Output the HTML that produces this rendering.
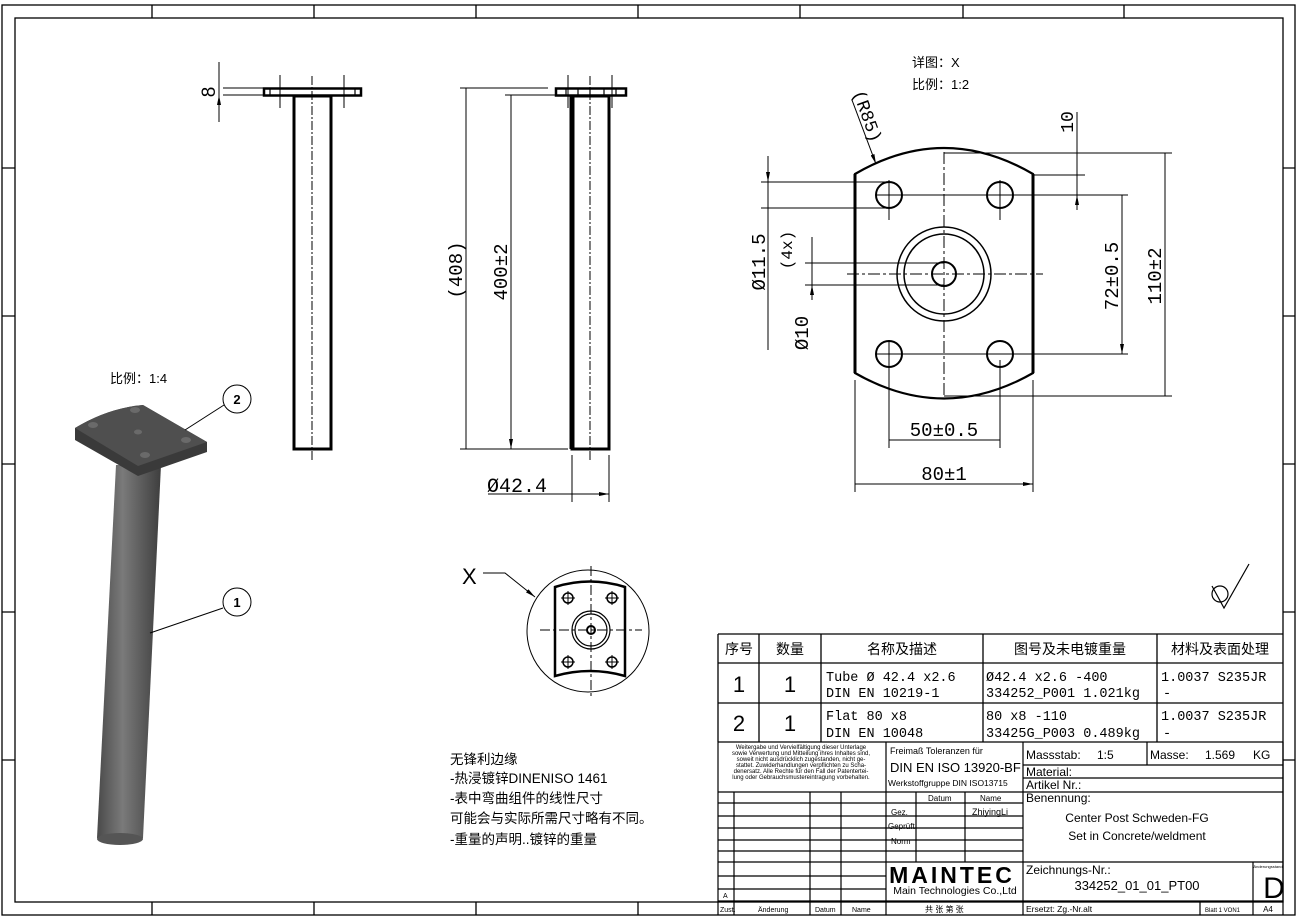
<!DOCTYPE html>
<html><head><meta charset="utf-8"><style>
html,body{margin:0;padding:0;background:#fff}
svg{display:block}
text{font-family:"Liberation Sans","Noto Sans CJK SC",sans-serif;fill:#000}
.m{font-family:"Liberation Mono","DejaVu Sans Mono","Noto Sans CJK SC",monospace}
</style></head><body>
<svg width="1299" height="919" viewBox="0 0 1299 919" xmlns="http://www.w3.org/2000/svg">
<defs>
<marker id="a" viewBox="0 0 10 4" refX="10" refY="2" markerWidth="10" markerHeight="4" orient="auto-start-reverse" markerUnits="userSpaceOnUse"><path d="M0,0L10,2L0,4z" fill="#000"/></marker>
<linearGradient id="tube" x1="0" x2="1"><stop offset="0" stop-color="#4a4a4a"/><stop offset="0.4" stop-color="#7a7a7a"/><stop offset="1" stop-color="#3e3e3e"/></linearGradient>
</defs>
<g fill="none" stroke="#000" stroke-width="1.3">
<rect x="2" y="5" width="1293" height="910"/>
<rect x="15" y="18" width="1268" height="884"/>
<path d="M152 5V18M314 5V18M476 5V18M638 5V18M800 5V18M963 5V18M1124 5V18M2 168H15M2 316H15M2 464H15M2 612H15M2 760H15M1283 168H1295M1283 316H1295M1283 464H1295M1283 612H1295M1283 760H1295M152 902V915M314 902V915M476 902V915M638 902V915"/>
</g>
<!-- view 1 -->
<g fill="none" stroke="#000">
<rect x="264" y="88.5" width="97" height="7" stroke-width="2.5"/>
<path d="M270 88V96M355 88V96" stroke-width="1.2"/>
<rect x="294" y="96" width="37" height="353" stroke-width="3"/>
<path d="M312 76V462" stroke-width="1" stroke-dasharray="9,2,2,2"/>
<path d="M280 75V108M344 75V108" stroke-width="1"/>
<path d="M223 88H263M223 95H263M219 62V122" stroke-width="1"/>
<path d="M219 72V88M219 111V95" stroke-width="1" marker-end="url(#a)"/>
</g>
<text x="0" y="0" font-size="19" transform="translate(215,92) rotate(-90)" text-anchor="middle">8</text>
<!-- view 2 -->
<g fill="none" stroke="#000">
<rect x="556" y="88.5" width="70" height="7" stroke-width="2.5"/>
<path d="M566 88V96M578 88V96M590 88V96M604 88V96M616 88V96" stroke-width="1.2"/>
<rect x="572" y="96" width="37" height="353" stroke-width="3"/>
<path d="M572 96V449" stroke-width="5"/>
<path d="M590 76V462" stroke-width="1" stroke-dasharray="9,2,2,2"/>
<path d="M568 75V108M612 75V108" stroke-width="1"/>
<path d="M460 88H548M505 95H555M460 449H568" stroke-width="1"/>
<path d="M466 268V88M466 268V449M511 272V95M511 272V449" stroke-width="1" marker-end="url(#a)"/>
<path d="M572 455V502M609 455V502M488 494H609" stroke-width="1"/>
<path d="M590 494H572M590 494H609" stroke-width="1" marker-end="url(#a)"/>
</g>
<text transform="translate(462,270) rotate(-90)" font-size="19" text-anchor="middle" class="m">(408)</text>
<text transform="translate(507,272) rotate(-90)" font-size="19" text-anchor="middle" class="m">400±2</text>
<text x="487" y="492" font-size="20" class="m">Ø42.4</text>
<!-- detail view X -->
<text x="912" y="67" font-size="13" fill="#333">详图：X</text>
<text x="912" y="89" font-size="13" fill="#333">比例：1:2</text>
<g fill="none" stroke="#000">
<path d="M855 174Q944 122 1033 174V373Q944 424 855 373Z" stroke-width="2.2"/>
<path d="M855 174V373M1033 174V373" stroke-width="3"/>
<circle cx="889" cy="195" r="13" stroke-width="2"/><circle cx="1000" cy="195" r="13" stroke-width="2"/>
<circle cx="889" cy="354" r="13" stroke-width="2"/><circle cx="1000" cy="354" r="13" stroke-width="2"/>
<circle cx="944" cy="274" r="47" stroke-width="1.5"/><circle cx="944" cy="274" r="40" stroke-width="1.5"/>
<circle cx="944" cy="274" r="12" stroke-width="2"/>
<path d="M944 152V398M847 274H1043" stroke-width="1" stroke-dasharray="12,3,3,3"/>
<path d="M876 195H1000M876 354H1000M889 180V220M1000 180V220M889 340V370" stroke-width="1"/>
<path d="M944 153H1172M1033 175H1085M990 195H1128M1000 354H1128M944 396H1172" stroke-width="1"/>
<path d="M1165 153V396M1122 195V354M1077 112V203" stroke-width="1"/>
<path d="M1165 270V153M1165 270V396M1122 270V195M1122 270V354" stroke-width="1" marker-end="url(#a)"/>
<path d="M1077 160V175M1077 210V195" stroke-width="1" marker-end="url(#a)"/>
<path d="M761 182H889M761 208H889M768 156V230M768 350V208" stroke-width="1"/>
<path d="M768 166V182" stroke-width="1" marker-end="url(#a)"/>
<path d="M805 263H944M805 285H944M812 237V300" stroke-width="1"/>
<path d="M812 248V263M812 300V285" stroke-width="1" marker-end="url(#a)"/>
<path d="M889 360V448M1000 360V448M855 380V492M1033 380V492" stroke-width="1"/>
<path d="M944 440H889M944 440H1000M944 484H855M944 484H1033" stroke-width="1" marker-end="url(#a)"/>
<path d="M852 100L876 164" stroke-width="1" marker-end="url(#a)"/>
</g>
<text transform="translate(862,118) rotate(70)" font-size="18" text-anchor="middle" class="m">(R85)</text>
<text transform="translate(1073,122) rotate(-90)" font-size="18" text-anchor="middle" class="m">10</text>
<text transform="translate(1118,276) rotate(-90)" font-size="19" text-anchor="middle" class="m">72±0.5</text>
<text transform="translate(1161,276) rotate(-90)" font-size="19" text-anchor="middle" class="m">110±2</text>
<text transform="translate(765,262) rotate(-90)" font-size="19" text-anchor="middle" class="m">Ø11.5</text>
<text transform="translate(792,250) rotate(-90)" font-size="16" text-anchor="middle" class="m">(4x)</text>
<text transform="translate(808,333) rotate(-90)" font-size="19" text-anchor="middle" class="m">Ø10</text>
<text x="944" y="436" font-size="19" text-anchor="middle" class="m">50±0.5</text>
<text x="944" y="480" font-size="19" text-anchor="middle" class="m">80±1</text>
<!-- small detail view -->
<g fill="none" stroke="#000">
<circle cx="588" cy="631" r="61" stroke-width="1"/>
<path d="M555 587Q590 576 625 587V676Q590 666 555 676Z" stroke-width="2.5"/>
<circle cx="568" cy="598" r="5" stroke-width="1.5"/><circle cx="612" cy="598" r="5" stroke-width="1.5"/>
<circle cx="568" cy="662" r="5" stroke-width="1.5"/><circle cx="612" cy="662" r="5" stroke-width="1.5"/>
<path d="M561 598H575M605 598H619M561 662H575M605 662H619M568 591V605M612 591V605M568 655V669M612 655V669" stroke-width="1"/>
<circle cx="591" cy="630" r="19" stroke-width="1.2"/><circle cx="591" cy="630" r="16" stroke-width="1.2"/>
<circle cx="591" cy="630" r="4" stroke-width="2"/>
<path d="M591 566V696M540 630H642" stroke-width="1" stroke-dasharray="10,3,3,3"/>
<path d="M483 573H505L535 597" stroke-width="1" marker-end="url(#a)"/>
</g>
<text x="462" y="584" font-size="22" font-family="Liberation Sans">X</text>
<!-- 3D view -->
<text x="110" y="383" font-size="13" fill="#333">比例：1:4</text>
<path d="M116 465L161 465L143 838Q120 850 97 838Z" fill="url(#tube)"/>
<ellipse cx="120" cy="839" rx="23" ry="6" fill="#555"/>
<path d="M75 428Q108 408 143 405L207 442L207 452L138 476L75 440Z" fill="#3a3a3a"/>
<path d="M75 428Q108 408 143 405L207 442L138 466Z" fill="#4f4f4f"/>
<g fill="#6a6a6a"><ellipse cx="135" cy="410" rx="5" ry="3"/><ellipse cx="93" cy="425" rx="5" ry="3"/><ellipse cx="138" cy="432" rx="4" ry="2.5"/><ellipse cx="186" cy="440" rx="5" ry="3"/><ellipse cx="145" cy="455" rx="5" ry="3"/></g>
<g fill="none" stroke="#000" stroke-width="1"><circle cx="237" cy="399" r="14"/><path d="M224 405L185 430"/><circle cx="237" cy="602" r="14"/><path d="M223 608L150 633"/></g>
<text x="237" y="404" font-size="13" font-weight="bold" text-anchor="middle">2</text>
<text x="237" y="607" font-size="13" font-weight="bold" text-anchor="middle">1</text>
<!-- surface symbol -->
<g fill="none" stroke="#000" stroke-width="1.2"><path d="M1212 586L1224 608L1249 564"/><circle cx="1220" cy="594" r="8"/></g>
<!-- parts list -->
<g fill="none" stroke="#000" stroke-width="1.3">
<path d="M718 634H1283M718 663H1283M718 703H1283M718 742H1283M718 634V742M759 634V742M821 634V742M983 634V742M1157 634V742"/>
</g>
<g font-size="14" fill="#333" text-anchor="middle"><text x="739" y="654">序号</text><text x="790" y="654">数量</text><text x="902" y="654">名称及描述</text><text x="1070" y="654">图号及未电镀重量</text><text x="1220" y="654">材料及表面处理</text></g>
<g font-size="22" text-anchor="middle"><text x="739" y="692">1</text><text x="790" y="692">1</text><text x="739" y="731">2</text><text x="790" y="731">1</text></g>
<g font-size="13.5"><text x="826" y="681" class="m">Tube Ø 42.4 x2.6</text><text x="826" y="697" class="m">DIN EN 10219-1</text><text x="826" y="720" class="m">Flat 80 x8</text><text x="826" y="737" class="m">DIN EN 10048</text>
<text x="986" y="681" class="m">Ø42.4 x2.6 -400</text><text x="986" y="697" class="m">334252_P001 1.021kg</text><text x="986" y="720" class="m">80 x8 -110</text><text x="986" y="737" class="m">33425G_P003 0.489kg</text>
<text x="1161" y="681" class="m">1.0037 S235JR</text><text x="1163" y="697" class="m">-</text><text x="1161" y="720" class="m">1.0037 S235JR</text><text x="1163" y="737" class="m">-</text></g>
<!-- notes -->
<g font-size="13.5"><text x="450" y="764">无锋利边缘</text><text x="450" y="783">-热浸镀锌DINENISO 1461</text><text x="450" y="803">-表中弯曲组件的线性尺寸</text><text x="450" y="823">可能会与实际所需尺寸略有不同。</text><text x="450" y="844">-重量的声明..镀锌的重量</text></g>
<!-- title block -->
<g fill="none" stroke="#000" stroke-width="1.2">
<path d="M718 742V915M886 742V915M1023 742V915M1283 742V915"/>
<path d="M718 792H1023M718 803H1023M718 816H1023M718 828H1023M718 840H1023M718 851H1023M718 862H886M718 876H886M718 889H886M718 901H1283M1023 765H1283M1023 778H1283M1023 792H1283M1023 862H1283M886 862H1023"/>
<path d="M734 792V915M810 792V915M841 792V915M916 792V862M965 792V862M1147 742V765M1253 862V915M1200 901V915"/>
</g>
<g font-size="6" text-anchor="middle"><text x="801" y="749">Weitergabe und Vervielfältigung dieser Unterlage</text><text x="801" y="755">sowie Verwertung und Mitteilung ihres Inhaltes sind,</text><text x="801" y="761">soweit nicht ausdrücklich zugestanden, nicht ge-</text><text x="801" y="767">stattet. Zuwiderhandlungen verpflichten zu Scha-</text><text x="801" y="773">denersatz. Alle Rechte für den Fall der Patentertei-</text><text x="801" y="779">lung oder Gebrauchsmustereintragung vorbehalten.</text></g>
<text x="890" y="754" font-size="9">Freimaß Toleranzen für</text>
<text x="890" y="772" font-size="13">DIN EN ISO 13920-BF</text>
<text x="888" y="786" font-size="8.5">Werkstoffgruppe DIN ISO13715</text>
<g font-size="8"><text x="928" y="801">Datum</text><text x="980" y="801">Name</text><text x="891" y="815">Gez.</text><text x="888" y="829">Geprüft</text><text x="891" y="844">Norm</text><text x="723" y="898" font-size="7">A</text>
<text x="720" y="912" font-size="7">Zust.</text><text x="758" y="912" font-size="7">Änderung</text><text x="815" y="912" font-size="7">Datum</text><text x="852" y="912" font-size="7">Name</text></g>
<text x="972" y="815" font-size="9" font-family="Liberation Serif" fill="#555">ZhiyingLi</text>
<text x="925" y="912" font-size="8" fill="#333">共 张 第 张</text>
<g font-size="12"><text x="1026" y="759">Massstab:</text><text x="1097" y="759">1:5</text><text x="1150" y="759">Masse:</text><text x="1205" y="759">1.569</text><text x="1253" y="759">KG</text><text x="1026" y="776">Material:</text><text x="1026" y="789">Artikel Nr.:</text><text x="1026" y="802">Benennung:</text><text x="1026" y="874">Zeichnungs-Nr.:</text></g>
<g font-size="12" text-anchor="middle"><text x="1137" y="822">Center Post Schweden-FG</text><text x="1137" y="840">Set in Concrete/weldment</text><text x="1137" y="890" font-family="Liberation Serif" font-size="13">334252_01_01_PT00</text></g>
<text x="1026" y="912" font-size="8.5">Ersetzt: Zg.-Nr.alt</text>
<text x="1205" y="912" font-size="6">Blatt 1 VON1</text><text x="1268" y="912" font-size="8" text-anchor="middle">A4</text>
<text x="1268" y="868" font-size="4" text-anchor="middle">Änderungsstand</text>
<text x="1274" y="898" font-size="30" text-anchor="middle">D</text>
<text x="952" y="883" font-size="23" font-weight="bold" text-anchor="middle" letter-spacing="3">MAINTEC</text>
<text x="955" y="894" font-size="10.5" text-anchor="middle">Main Technologies Co.,Ltd</text>
</svg>
</body></html>
